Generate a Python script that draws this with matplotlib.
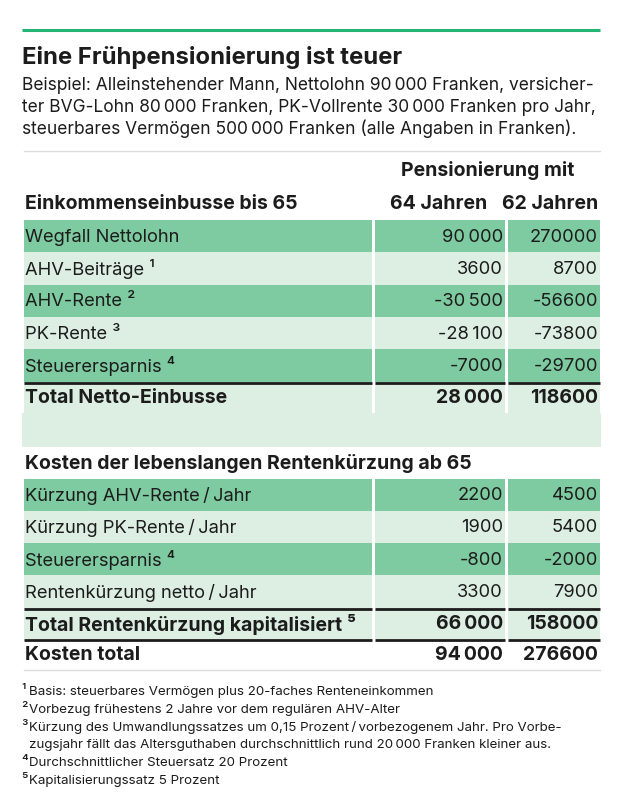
import matplotlib
matplotlib.use("Agg")

import matplotlib.pyplot as plt
from matplotlib.patches import Rectangle

plt.rcParams['font.family'] = ['Inter', 'DejaVu Sans']

TS = "\u2009"  # thin space in numbers

# --- data ---
title = "Eine Frühpensionierung ist teuer"
subtitle = ["Beispiel: Alleinstehender Mann, Nettolohn 90" + TS + "000 Franken, versicher-",
            "ter BVG-Lohn 80" + TS + "000 Franken, PK-Vollrente 30" + TS + "000 Franken pro Jahr,",
            "steuerbares Vermögen 500" + TS + "000 Franken (alle Angaben in Franken)."]
col_header = "Pensionierung mit"
col_labels = ["64 Jahren", "62 Jahren"]

sec1_title = "Einkommenseinbusse bis 65"
sec1_labels = ["Wegfall Nettolohn", "AHV-Beiträge ¹", "AHV-Rente ²", "PK-Rente ³", "Steuerersparnis ⁴"]
sec1_64 = ["90" + TS + "000", "3600", "-30" + TS + "500", "-28" + TS + "100", "-7000"]
sec1_62 = ["270000", "8700", "-56600", "-73800", "-29700"]
sec1_total = ("Total Netto-Einbusse", "28" + TS + "000", "118600")

sec2_title = "Kosten der lebenslangen Rentenkürzung ab 65"
sec2_labels = ["Kürzung AHV-Rente" + TS + "/" + TS + "Jahr", "Kürzung PK-Rente" + TS + "/" + TS + "Jahr",
               "Steuerersparnis ⁴", "Rentenkürzung netto" + TS + "/" + TS + "Jahr"]
sec2_64 = ["2200", "1900", "-800", "3300"]
sec2_62 = ["4500", "5400", "-2000", "7900"]
sec2_total = ("Total Rentenkürzung kapitalisiert ⁵", "66" + TS + "000", "158000")
grand_total = ("Kosten total", "94" + TS + "000", "276600")

footnotes = [("¹", "Basis: steuerbares Vermögen plus 20-faches Renteneinkommen"),
             ("²", "Vorbezug frühestens 2 Jahre vor dem regulären AHV-Alter"),
             ("³", "Kürzung des Umwandlungssatzes um 0,15 Prozent" + TS + "/" + TS + "vorbezogenem Jahr. Pro Vorbe-"),
             ("", "zugsjahr fällt das Altersguthaben durchschnittlich rund 20" + TS + "000 Franken kleiner aus."),
             ("⁴", "Durchschnittlicher Steuersatz 20 Prozent"),
             ("⁵", "Kapitalisierungssatz 5 Prozent")]

# --- style ---
DARK = "#7ecaa1"
LIGHT = "#ddefe3"
INK = "#1c1c1c"
GREEN_LINE = "#22b573"
FS = 13.2      # regular table text
FSB = 14.0     # bold table text

# column extents in pixels
cols = [(24, 372), (375, 505), (508, 600)]
ROW_H = 32.3

fig = plt.figure(figsize=(6.32, 8.0), dpi=100)
ax = fig.add_axes([0, 0, 1, 1])
ax.set_xlim(0, 632)
ax.set_ylim(800, 0)
ax.axis("off")


def draw_row(top, h, label, v64, v62, color, bold=False):
    for (x0, x1) in cols:
        if color is not None:
            ax.add_patch(Rectangle((x0, top), x1 - x0, h, color=color, lw=0))
    fw = "bold" if bold else "normal"
    fs = FSB if bold else FS
    yc = top + h / 2 + 1
    ax.text(cols[0][0] + 1, yc, label, fontsize=fs, color=INK, va="center", ha="left", fontweight=fw)
    ax.text(cols[1][1] - 2, yc, v64, fontsize=fs, color=INK, va="center", ha="right", fontweight=fw)
    ax.text(cols[2][1] - 2, yc, v62, fontsize=fs, color=INK, va="center", ha="right", fontweight=fw)


def black_rule(y):
    for (x0, x1) in cols:
        ax.plot([x0, x1], [y, y], color=INK, lw=2.0, solid_capstyle="butt")


# header
ax.plot([22, 600], [30, 30], color=GREEN_LINE, lw=2.2, solid_capstyle="butt")
ax.text(22, 64, title, fontsize=17.2, fontweight="bold", color=INK, va="baseline")
for i, line in enumerate(subtitle):
    ax.text(22, 90 + i * 22, line, fontsize=12.5, color=INK, va="baseline")

# table frame
ax.plot([24, 600], [151, 151], color="#dddddd", lw=1.0)
ax.text((cols[1][0] + cols[2][1]) / 2, 170, col_header, fontsize=FSB, fontweight="bold",
        color=INK, ha="center", va="center")
ax.text(cols[0][0] + 1, 204, sec1_title, fontsize=FSB, fontweight="bold", color=INK, va="center")
ax.text(cols[1][1] - 18, 204, col_labels[0], fontsize=FSB, fontweight="bold", color=INK,
        ha="right", va="center")
ax.text(cols[2][1] - 2, 204, col_labels[1], fontsize=FSB, fontweight="bold", color=INK,
        ha="right", va="center")

# section 1
top = 220
for i, (lab, a, b) in enumerate(zip(sec1_labels, sec1_64, sec1_62)):
    draw_row(top + i * ROW_H, ROW_H, lab, a, b, DARK if i % 2 == 0 else LIGHT)
y = top + len(sec1_labels) * ROW_H
draw_row(y, 31, *sec1_total, LIGHT, bold=True)
black_rule(y + 1)
y += 31
ax.add_patch(Rectangle((22, y), 579, 34, color=LIGHT, lw=0))
y += 34

# section 2
ax.text(cols[0][0] + 1, y + 17, sec2_title, fontsize=FSB, fontweight="bold", color=INK, va="center")
y += 32
for i, (lab, a, b) in enumerate(zip(sec2_labels, sec2_64, sec2_62)):
    draw_row(y + i * ROW_H, ROW_H, lab, a, b, DARK if i % 2 == 0 else LIGHT)
y += len(sec2_labels) * ROW_H
draw_row(y, 31, *sec2_total, LIGHT, bold=True)
black_rule(y + 1)
y += 31
draw_row(y, 31, *grand_total, None, bold=True)
black_rule(y + 1)
y += 31
ax.plot([24, 600], [y, y], color="#dddddd", lw=1.0)

# footnotes
for i, (mark, txt) in enumerate(footnotes):
    yb = 695 + i * 17.8
    if mark:
        ax.text(21, yb, mark, fontsize=10.5, color=INK, va="baseline")
    ax.text(29, yb, txt, fontsize=9.6, color=INK, va="baseline")

fig.savefig("out.png", dpi=100)
